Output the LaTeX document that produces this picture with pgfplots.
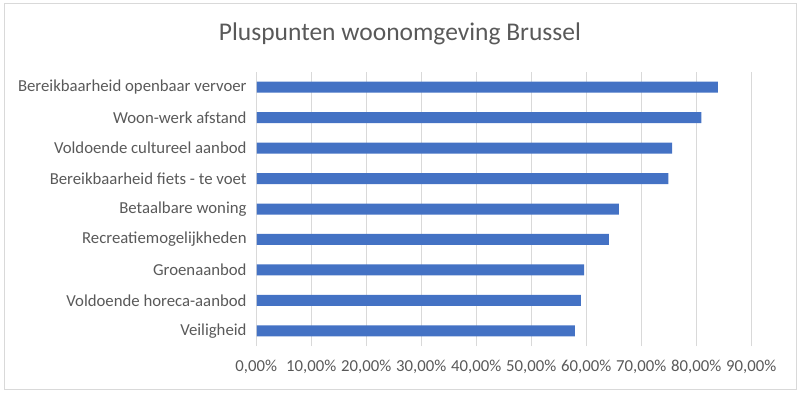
\documentclass[border=0pt]{standalone}
\usepackage{pgfplots}
\pgfplotsset{compat=1.18}
\usepackage{fontspec}
\setmainfont{Carlito}
\definecolor{barblue}{HTML}{4472C4}
\definecolor{txtgray}{HTML}{595959}
\definecolor{gridgray}{HTML}{D9D9D9}
\begin{document}
\begin{tikzpicture}[x=1bp,y=1bp]
\useasboundingbox (0,0) rectangle (804,395);
\draw[gridgray, line width=0.8bp] (4,6) rectangle (796,392);
\node[txtgray, font=\fontsize{25.5bp}{30bp}\selectfont] at (400,361) {Pluspunten woonomgeving Brussel};
\begin{axis}[
  at={(256.3bp,49bp)}, anchor=south west,
  scale only axis, width=495bp, height=274bp,
  xbar, bar width=11bp,
  xmin=0, xmax=0.9,
  ymin=-0.5, ymax=8.5,
  xtick={0,0.1,...,0.9},
  xticklabels={0{,}00\%,10{,}00\%,20{,}00\%,30{,}00\%,40{,}00\%,50{,}00\%,60{,}00\%,70{,}00\%,80{,}00\%,90{,}00\%},
  ytick={0,...,8},
  yticklabels={Veiligheid,Voldoende horeca-aanbod,Groenaanbod,Recreatiemogelijkheden,Betaalbare woning,Bereikbaarheid fiets - te voet,Voldoende cultureel aanbod,Woon-werk afstand,Bereikbaarheid openbaar vervoer},
  xmajorgrids, major grid style={gridgray, line width=0.8bp},
  axis line style={draw=none},
  axis x line*=bottom,
  axis y line*=left,
  tick style={draw=none},
  ticklabel style={txtgray, font=\fontsize{16.75bp}{20bp}\selectfont},
  xticklabel style={yshift=-11bp},
  yticklabel style={xshift=-2bp},
]
\addplot[fill=barblue, draw=none] coordinates {
(0.579,0) (0.590,1) (0.596,2) (0.641,3) (0.659,4) (0.749,5) (0.756,6) (0.809,7) (0.839,8)
};
\draw[gridgray, line width=0.8bp] (axis cs:0,-0.5) -- (axis cs:0,8.5);
\end{axis}
\end{tikzpicture}
\end{document}
